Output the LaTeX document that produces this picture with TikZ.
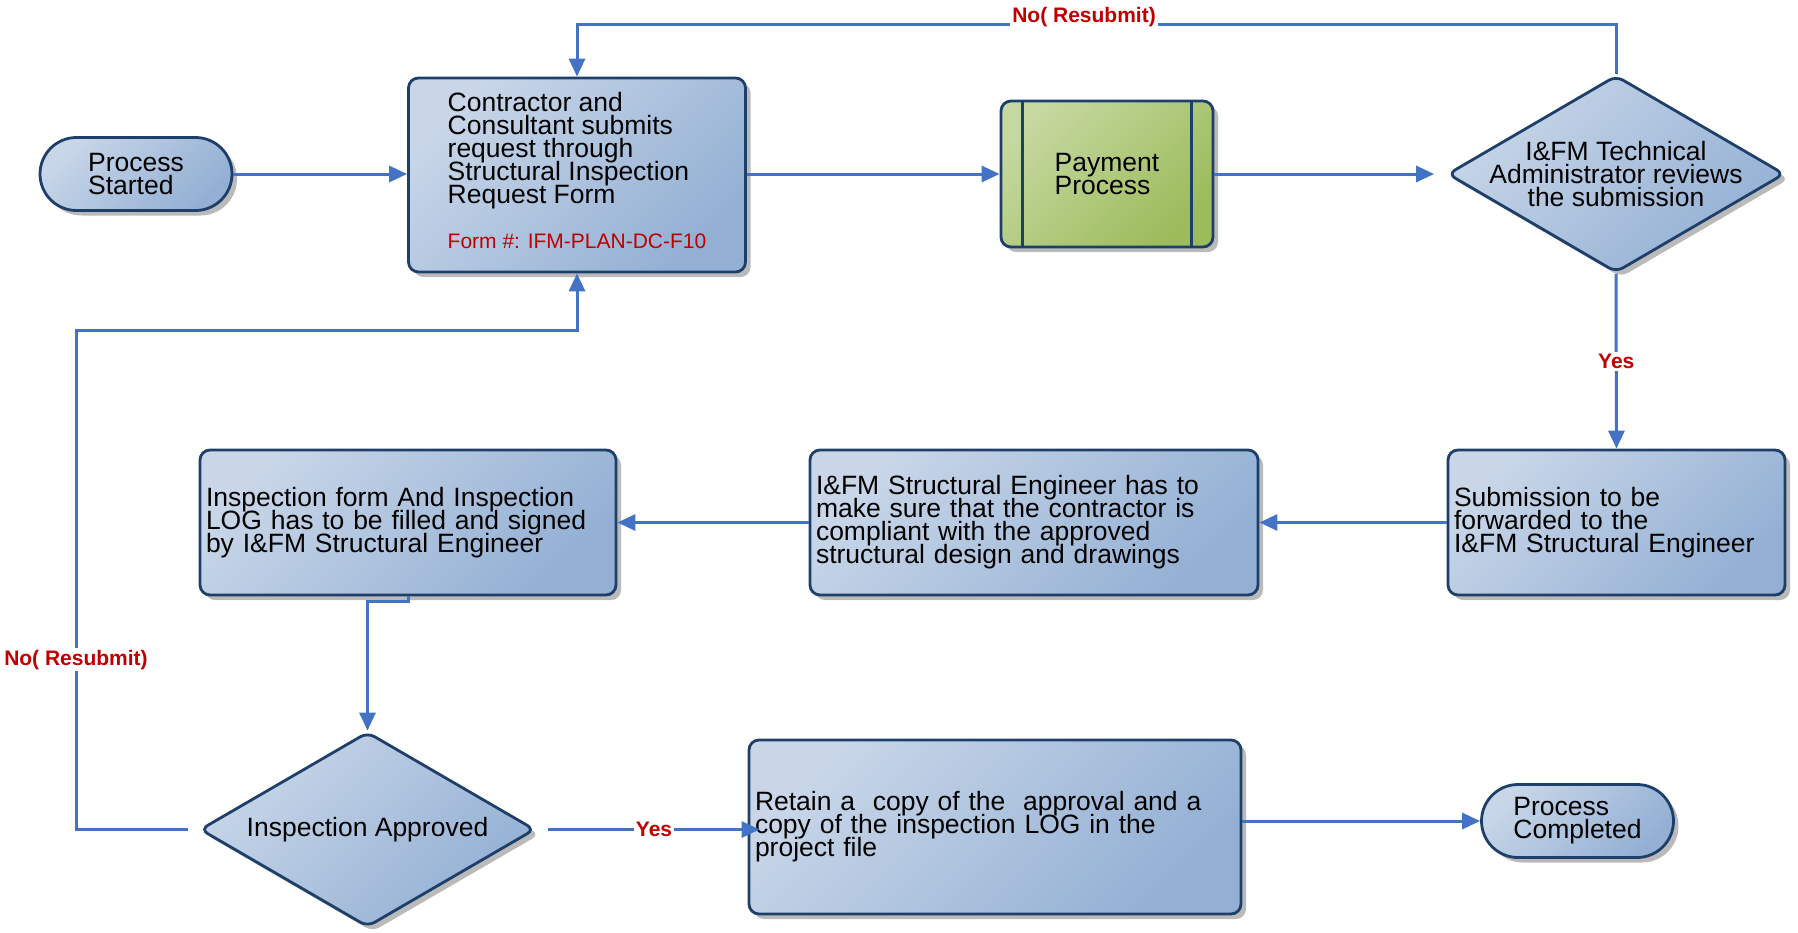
\documentclass[tikz,border=0pt]{standalone}
\usepackage{fontspec}
\setmainfont{Liberation Sans}
\usetikzlibrary{shapes.geometric,shapes.misc,arrows.meta,shadows}
\setlength{\lineskiplimit}{-20pt}
\definecolor{boxlight}{HTML}{C8D6E8}
\definecolor{boxdark}{HTML}{93B0D4}
\definecolor{paylight}{HTML}{C5D89F}
\definecolor{paydark}{HTML}{9CBB5B}
\definecolor{border}{HTML}{1F3F6B}
\definecolor{flow}{HTML}{4472C4}
\definecolor{note}{HTML}{C00000}
\tikzset{
	base/.style={draw=border,line width=1.4pt,top color=boxlight,bottom color=boxdark,shading angle=45,
		drop shadow={shadow xshift=2.5pt,shadow yshift=-2.5pt,fill=black!30,opacity=0.9},
		font=\fontsize{13.25}{11.5}\selectfont,
		execute at begin node={\fontsize{13.25}{11.5}\selectfont\lineskiplimit=-20pt}},
	terminal/.style={base,rounded rectangle,minimum width=104pt,minimum height=36.5pt,align=left,inner xsep=4pt},
	task/.style={base,rectangle,rounded corners=5pt,align=left,inner xsep=3pt},
	decision/.style={base,diamond,rounded corners=4pt,aspect=1.71,inner sep=-5pt,align=center},
	flowline/.style={draw=flow,line width=1.5pt},
	arrowline/.style={flowline,-{Triangle[length=9pt,width=8pt]}},
	answer/.style={text=note,font=\bfseries\fontsize{10.5}{12}\selectfont,fill=white,inner sep=1pt}
}
\begin{document}
\begin{tikzpicture}[x=0.5pt,y=-0.5pt]
		\useasboundingbox (0,0) rectangle (1798,932);
		% top row
		\node [terminal] (0) at (136,174) {Process\\Started};
		\node [task,minimum width=168.5pt,minimum height=97pt] (1) at (577,175)
			{Contractor and\\Consultant submits\\request through\\Structural Inspection\\Request Form\\[11pt]{\color{note}\fontsize{10.5}{12}\selectfont Form \#: IFM-PLAN-DC-F10\rule[-5pt]{0pt}{5pt}}};
		\node [task,top color=paylight,bottom color=paydark,shading angle=45,minimum width=106pt,minimum height=73pt] (2) at (1107,174) {Payment\\Process};
		\draw [draw=border,line width=1.4pt] ([xshift=11.5pt]2.north west) -- ([xshift=11.5pt]2.south west)
			([xshift=-11.5pt]2.north east) -- ([xshift=-11.5pt]2.south east);
		\node [decision,minimum width=168.5pt,minimum height=98.5pt] (3) at (1616,174) {I\&FM Technical\\Administrator reviews\\the submission};
		% middle row
		\node [task,text width=162.5pt,minimum height=72.5pt] (4) at (1616.5,522.5) {Submission to be\\forwarded to the\\I\&FM Structural Engineer};
		\node [task,text width=218pt,minimum height=72.5pt] (5) at (1034,522.5) {I\&FM Structural Engineer has to\\make sure that the contractor is\\compliant with the approved\\structural design and drawings};
		\node [task,text width=202pt,minimum height=72.5pt] (6) at (408,522.5) {Inspection form And Inspection\\LOG has to be filled and signed\\by I\&FM Structural Engineer};
		% bottom row
		\node [decision,minimum width=167.5pt,minimum height=97.5pt] (7) at (367.5,829.5) {Inspection Approved};
		\node [task,text width=240pt,minimum height=87pt] (8) at (995,827) {Retain a\ \ copy of the\ \ approval and a\\copy of the inspection LOG in the\\project file};
		\node [terminal] (9) at (1577.5,821) {Process\\Completed};
		\coordinate (loop) at (76,330);
		% connectors
		\draw [arrowline] (0.east) -- (0.east -| 1.west);
		\draw [arrowline] (1.east |- 2.west) -- (2.west);
		\draw [arrowline,shorten >=6pt] (2) -- (3);
		\draw [arrowline] (3.north) -- ++(0,-50) -| node [answer,pos=0.256,yshift=3.5pt] {No( Resubmit)} (1.north);
		\draw [arrowline] (3.south) -- node [answer] {Yes} (4.north);
		\draw [arrowline] (4) -- (5);
		\draw [arrowline] (5) -- (6);
		\draw [arrowline] (6.south) -- ++(0,5) -| (7.north);
		\draw [arrowline] ([xshift=-5.5pt]7.west) -| node [answer,pos=0.67] {No( Resubmit)} (loop) -| (1.south);
		\draw [arrowline] ([xshift=6pt]7.east) -- node [answer] {Yes} ([xshift=6pt]7.east -| 8.west);
		\draw [arrowline] (8.east |- 9.west) -- (9.west);
	\end{tikzpicture}
\end{document}
